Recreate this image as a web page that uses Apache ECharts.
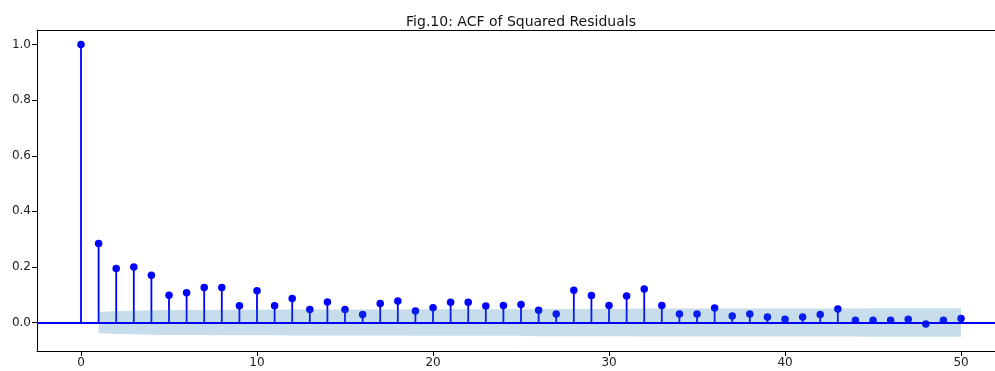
<!DOCTYPE html>
<html>
<head>
<meta charset="utf-8">
<script src="https://cdn.jsdelivr.net/npm/echarts@6/dist/echarts.min.js"></script>
<style>
  html, body { margin: 0; padding: 0; background: #fff; }
  #chart { width: 995px; height: 371px; }
</style>
</head>
<body>
<div id="chart"></div>
<script>
// ACF of squared residuals, lags 0..50
const lags = Array.from({ length: 51 }, (_, i) => i)
const acfValues = [
  1.000, 0.284, 0.194, 0.200, 0.170, 0.098, 0.107, 0.126, 0.126, 0.060,
  0.114, 0.060, 0.086, 0.047, 0.074, 0.047, 0.029, 0.068, 0.077, 0.041,
  0.053, 0.073, 0.073, 0.059, 0.061, 0.065, 0.044, 0.031, 0.116, 0.097,
  0.061, 0.095, 0.121, 0.061, 0.031, 0.031, 0.052, 0.023, 0.031, 0.020,
  0.012, 0.020, 0.029, 0.049, 0.008, 0.008, 0.008, 0.012, -0.005, 0.008,
  0.014
]
// half-width of the confidence band, lags 1..50
const bandLags = lags.slice(1)
const bandHalf = [
  0.038, 0.041, 0.042, 0.044, 0.045, 0.045, 0.045, 0.046, 0.046, 0.046,
  0.046, 0.047, 0.047, 0.047, 0.047, 0.047, 0.047, 0.047, 0.048, 0.048,
  0.048, 0.048, 0.048, 0.048, 0.048, 0.049, 0.049, 0.049, 0.049, 0.049,
  0.049, 0.050, 0.050, 0.050, 0.050, 0.050, 0.050, 0.050, 0.050, 0.050,
  0.050, 0.050, 0.050, 0.050, 0.051, 0.051, 0.051, 0.051, 0.051, 0.051
]
const xTicks = [0, 10, 20, 30, 40, 50]
const yTicks = [0, 0.2, 0.4, 0.6, 0.8, 1.0]

const chart = echarts.init(document.getElementById('chart'))

const font = 'DejaVu Sans'
const blue = '#0000ff'

const axisLabelStyle = { fontFamily: font, fontSize: 12, color: '#222' }

chart.setOption({
  animation: false,
  title: {
    text: 'Fig.10: ACF of Squared Residuals',
    left: 516,
    top: 10,
    textAlign: 'center',
    textStyle: { fontFamily: font, fontSize: 14, fontWeight: 'normal', color: '#111' }
  },
  grid: { left: 37, right: 0, top: 30, bottom: 20, containLabel: false },
  xAxis: [
    {
      type: 'value',
      min: -2.5,
      max: 51.93,
      position: 'bottom',
      splitLine: { show: false },
      axisLine: { show: true, onZero: false, lineStyle: { color: '#000', width: 1 } },
      axisTick: { show: true, length: 5, customValues: xTicks, lineStyle: { color: '#000' } },
      axisLabel: { ...axisLabelStyle, margin: 6, customValues: xTicks, formatter: v => String(v) }
    },
    {
      type: 'value',
      min: -2.5,
      max: 51.93,
      position: 'top',
      splitLine: { show: false },
      axisLine: { show: true, onZero: false, lineStyle: { color: '#000', width: 1 } },
      axisTick: { show: false },
      axisLabel: { show: false }
    }
  ],
  yAxis: {
    type: 'value',
    min: -0.1025,
    max: 1.0525,
    splitLine: { show: false },
    axisLine: { show: true, onZero: false, lineStyle: { color: '#000', width: 1 } },
    axisTick: { show: true, length: 5, customValues: yTicks, lineStyle: { color: '#000' } },
    axisLabel: { ...axisLabelStyle, margin: 6, customValues: yTicks, formatter: v => v.toFixed(1) }
  },
  series: [
    {
      // stems
      type: 'custom',
      data: lags.map((l, i) => [l, acfValues[i]]),
      renderItem: (params, api) => {
        const p0 = api.coord([api.value(0), 0])
        const p1 = api.coord([api.value(0), api.value(1)])
        return {
          type: 'line',
          shape: { x1: p0[0], y1: p0[1], x2: p1[0], y2: p1[1] },
          style: { stroke: blue, lineWidth: 1.8 }
        }
      },
      z: 2
    },
    {
      type: 'scatter',
      data: lags.map((l, i) => [l, acfValues[i]]),
      symbolSize: 7.5,
      itemStyle: { color: blue, opacity: 1 },
      z: 3,
      markLine: {
        silent: true,
        symbol: 'none',
        label: { show: false },
        lineStyle: { color: blue, width: 1.8, type: 'solid' },
        data: [{ yAxis: 0 }]
      }
    },
    {
      // confidence band
      type: 'custom',
      data: [[0]],
      renderItem: (params, api) => {
        const upper = bandLags.map((l, i) => api.coord([l, bandHalf[i]]))
        const lower = bandLags.map((l, i) => api.coord([l, -bandHalf[i]])).reverse()
        return {
          type: 'polygon',
          shape: { points: upper.concat(lower) },
          style: { fill: 'rgba(31,119,180,0.25)' }
        }
      },
      z: 4
    }
  ]
})
</script>
</body>
</html>
